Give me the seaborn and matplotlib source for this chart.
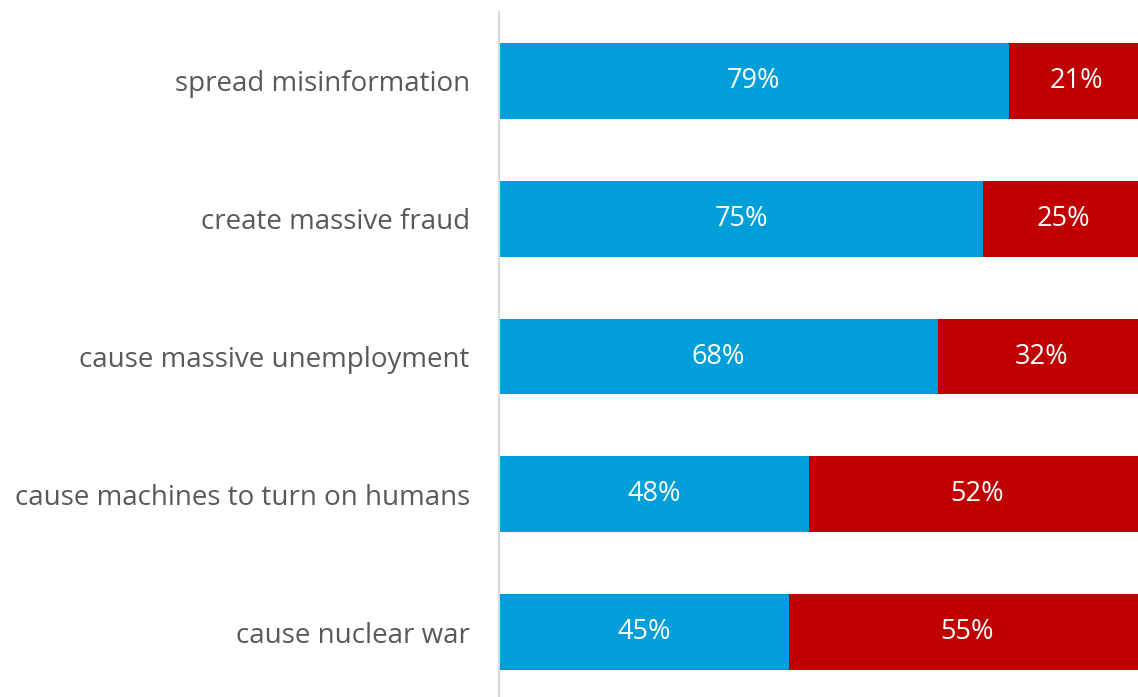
import matplotlib
matplotlib.use("Agg")
import matplotlib.pyplot as plt
import seaborn as sns
import pandas as pd

# Share of respondents per concern
categories = [
    "spread misinformation",
    "create massive fraud",
    "cause massive unemployment",
    "cause machines to turn on humans",
    "cause nuclear war",
]
agree = [79, 75, 68, 48, 45]
disagree = [21, 25, 32, 52, 55]

blue = "#009FDA"
red = "#C00000"
text_gray = "#595959"

sns.set_theme(style="white")
plt.rcParams["font.family"] = ["Open Sans", "DejaVu Sans"]

df = pd.DataFrame({"category": categories, "agree": agree, "disagree": disagree})
df["total"] = df["agree"] + df["disagree"]

fig = plt.figure(figsize=(11.38, 6.97), dpi=100)
ax = fig.add_axes([499 / 1138, -4 / 697, 1 - 499 / 1138, (697 - 12 + 4) / 697])

bar_h = 0.55
# Stacked bars: draw the total in red, then the first share in blue on top
sns.barplot(data=df, y="category", x="total", color=red, orient="h",
            width=bar_h, ax=ax, saturation=1, linewidth=0)
sns.barplot(data=df, y="category", x="agree", color=blue, orient="h",
            width=bar_h, ax=ax, saturation=1, linewidth=0)

for i, (a, d) in enumerate(zip(agree, disagree)):
    ax.text(a / 2, i, f"{a}%", ha="center", va="center", color="white", fontsize=19.5)
    ax.text(a + d / 2, i, f"{d}%", ha="center", va="center", color="white", fontsize=19.5)

ax.set_xlim(0, 99)
ax.set_ylim(len(categories) - 0.5, -0.5)
ax.set_xlabel("")
ax.set_ylabel("")
ax.set_xticks([])
ax.tick_params(axis="y", length=0, pad=21, labelsize=20, labelcolor=text_gray)
for s in ["top", "right", "bottom"]:
    ax.spines[s].set_visible(False)
ax.spines["left"].set_color("#D9D9D9")
ax.spines["left"].set_linewidth(1.5)
ax.patch.set_alpha(0)

fig.savefig("out.png", dpi=100)
